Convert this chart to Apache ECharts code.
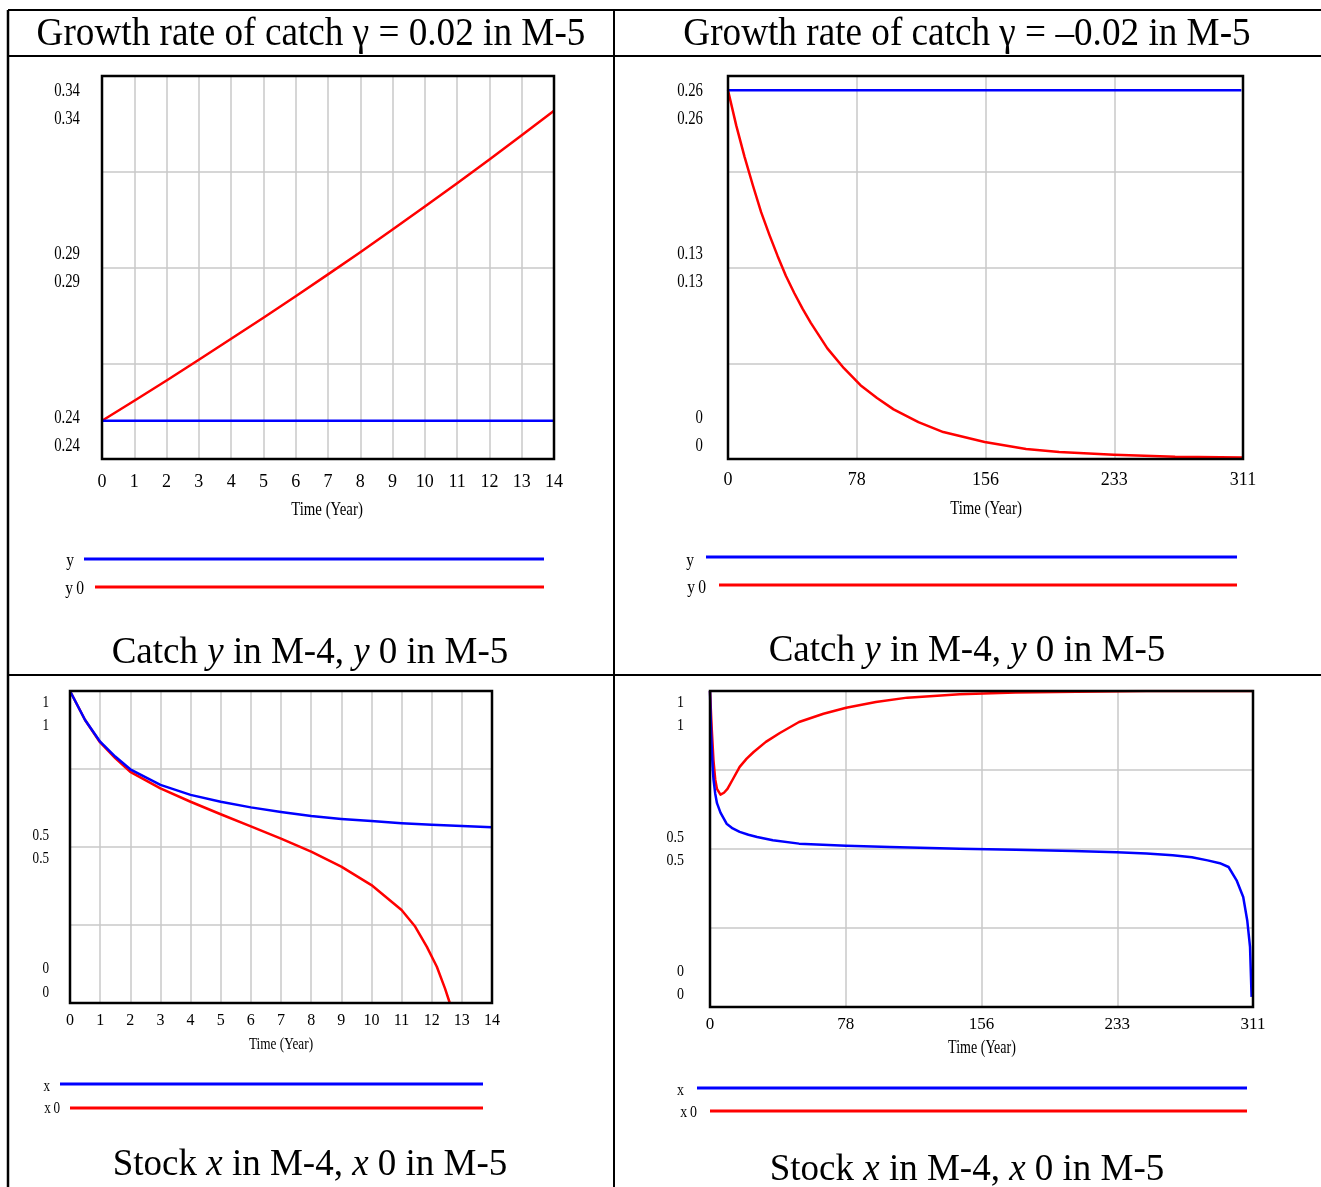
<!DOCTYPE html>
<html><head><meta charset="utf-8">
<script src="https://cdn.jsdelivr.net/npm/echarts/dist/echarts.min.js"></script>
<style>html,body{margin:0;padding:0;background:#fff}#c{width:1321px;height:1187px}</style>
</head><body><div id="c"></div><script>
// ---------- DATA ----------
// Panel 1: growth rate 0.02, catch
const p1Time = [0,1,2,3,4,5,6,7,8,9,10,11,12,13,14];
const p1Y    = [0.24,0.24,0.24,0.24,0.24,0.24,0.24,0.24,0.24,0.24,0.24,0.24,0.24,0.24,0.24];
const p1Y0   = [0.24,0.2452,0.2505,0.2559,0.2614,0.2669,0.2725,0.2782,0.284,0.2899,0.2959,0.302,0.3082,0.3145,0.3209];
const p1YLabels = ['0.34','0.34','0.29','0.29','0.24','0.24'];

// Panel 2: growth rate -0.02, catch
const p2TimeY = [0,310];
const p2Y     = [0.26,0.26];
const p2Time  = [0,5,10,15,20,25,30,35,40,45,50,55,60,70,80,90,100,115,130,155,180,200,233,270,311];
const p2Y0    = [0.26,0.235,0.213,0.193,0.174,0.158,0.143,0.129,0.117,0.106,0.096,0.087,0.078,0.064,0.052,0.043,0.035,0.026,0.019,0.012,0.007,0.005,0.003,0.0015,0.001];
const p2YLabels = ['0.26','0.26','0.13','0.13','0','0'];

// Panel 3: growth rate 0.02, stock
const p3TimeX  = [0,0.5,1,1.5,2,3,4,5,6,7,8,9,10,11,12,13,14];
const p3X      = [1.0,0.907,0.8375,0.79,0.749,0.699,0.667,0.645,0.627,0.612,0.599,0.59,0.583,0.576,0.571,0.567,0.563];
const p3TimeX0 = [0,0.5,1,1.5,2,3,4,5,6,7,8,9,10,11,11.45,11.84,12.17,12.44,12.6];
const p3X0     = [1.0,0.907,0.835,0.785,0.741,0.688,0.645,0.605,0.566,0.527,0.485,0.437,0.378,0.298,0.245,0.18,0.116,0.047,0.0];
const p3YLabels = ['1','1','0.5','0.5','0','0'];

// Panel 4: growth rate -0.02, stock
const p4TimeX  = [0,0.3,0.7,1,1.5,2,3,4,6,9.5,13,17,22,27,36,51,78,103,143,175,208,233,250,265,276,285,292,297,301.6,305.4,307.7,309.3,310.2];
const p4X      = [1.0,0.93,0.86,0.82,0.76,0.72,0.675,0.645,0.615,0.58,0.565,0.554,0.545,0.538,0.528,0.517,0.51,0.506,0.501,0.498,0.494,0.49,0.486,0.48,0.474,0.464,0.455,0.443,0.401,0.348,0.274,0.19,0.032];
const p4TimeX0 = [0,0.5,1,2,3,4,6,8,10,13,17,21,25,32,40,51,65,78,95,113,143,175,210,250,311];
const p4X0     = [1.0,0.94,0.88,0.78,0.72,0.69,0.672,0.678,0.69,0.72,0.76,0.786,0.807,0.839,0.867,0.902,0.928,0.947,0.965,0.979,0.99,0.995,0.998,1.0,1.0];
const p4YLabels = ['1','1','0.5','0.5','0','0'];

const headers = ['Growth rate of catch \u03b3 = 0.02 in M-5', 'Growth rate of catch \u03b3 = \u20130.02 in M-5'];
const axisTitle = 'Time (Year)';

// ---------- LAYOUT ----------
const FONT = 'Liberation Serif';
const BLUE = '#0000ff', RED = '#ff0000', GRIDC = '#c8c8c8';
const grids = [
  {left:102, top:76,  width:452, height:383},
  {left:728, top:76,  width:515, height:383},
  {left:70,  top:691, width:422, height:312},
  {left:710, top:691, width:543, height:316}
];
const yRanges = [
  {min:0.23, max:0.33, interval:0.025},
  {min:0, max:0.27, interval:0.0675},
  {min:0, max:1, interval:0.25},
  {min:0, max:1, interval:0.25}
];
const xRanges = [
  {min:0, max:14, interval:1},
  {min:0, max:311, interval:77.75},
  {min:0, max:14, interval:1},
  {min:0, max:311, interval:77.75}
];
const xLabelSize = [18,18,16,17];
const xLabelMargin = [14,12,10,9];

function pairs(t, v){ return t.map((x,i)=>[x, v[i]]); }

const xAxes = xRanges.map((r,i)=>({
  type:'value', gridIndex:i, min:r.min, max:r.max, interval:r.interval,
  axisLine:{show:false}, axisTick:{show:false},
  splitLine:{show:true, lineStyle:{color:GRIDC, width:1.5}},
  axisLabel:{fontFamily:FONT, fontSize:xLabelSize[i], color:'#000', margin:xLabelMargin[i],
    formatter:(v)=>String(Math.round(v)), showMinLabel:true, showMaxLabel:true}
}));
const yAxes = yRanges.map((r,i)=>({
  type:'value', gridIndex:i, min:r.min, max:r.max, interval:r.interval,
  axisLine:{show:false}, axisTick:{show:false}, axisLabel:{show:false},
  splitLine:{show:true, lineStyle:{color:GRIDC, width:1.5}}
}));

function line(gi, data, color){
  return {type:'line', xAxisIndex:gi, yAxisIndex:gi, data, showSymbol:false, symbol:'none',
    smooth:false, lineStyle:{color, width:2.5, join:'round'}, itemStyle:{color}, animation:false};
}
const series = [
  line(0, pairs(p1Time,p1Y0), RED), line(0, pairs(p1Time,p1Y), BLUE),
  line(1, pairs(p2Time,p2Y0), RED), line(1, pairs(p2TimeY,p2Y), BLUE),
  line(2, pairs(p3TimeX0,p3X0), RED), line(2, pairs(p3TimeX,p3X), BLUE),
  line(3, pairs(p4TimeX0,p4X0), RED), line(3, pairs(p4TimeX,p4X), BLUE)
];

// ---------- GRAPHICS ----------
const G = [];
function txt(x,y,text,size,align,sx){
  G.push({type:'text', x, y, scaleX:sx||1, z:50,
    style:{text, fontFamily:FONT, fontSize:size, fill:'#000', textAlign:align||'center', textVerticalAlign:'middle'}});
}
function hl(x1,y1,x2,y2,color,w){
  G.push({type:'line', z:60, shape:{x1,y1,x2,y2}, style:{stroke:color, lineWidth:w}});
}
// table rules
hl(8,10,1321,10,'#000',2); hl(8,56,1321,56,'#000',2); hl(8,675,1321,675,'#000',2);
hl(8,10,8,1187,'#000',2.5); hl(614,10,614,1187,'#000',2);
// plot boxes
grids.forEach(g=>G.push({type:'rect', z:70, shape:{x:g.left,y:g.top,width:g.width,height:g.height},
  style:{fill:'none', stroke:'#000', lineWidth:2.5}}));
// headers
txt(311,34,headers[0],40,'center',0.93);
txt(967,34,headers[1],40,'center',0.93);
// y tick labels
const yLabelPos = [
  {x:80, ys:[91,119,254,282,418,446], size:18},
  {x:703,ys:[91,119,254,282,418,446], size:18},
  {x:49, ys:[703,726,836,859,969,993], size:16},
  {x:684,ys:[703,726,838,861,972,995], size:17}
];
[p1YLabels,p2YLabels,p3YLabels,p4YLabels].forEach((labs,i)=>{
  labs.forEach((l,j)=>txt(yLabelPos[i].x, yLabelPos[i].ys[j], l, yLabelPos[i].size, 'right', 0.82));
});
// axis titles
txt(327,510,axisTitle,19,'center',0.78);
txt(986,509,axisTitle,19,'center',0.78);
txt(281,1045,axisTitle,17,'center',0.78);
txt(982,1048,axisTitle,18,'center',0.78);
// legends
const legends = [
  {a:'y', b:'y0', ax:74, ay:561, bx:84, by:589, l1:[84,544,559], l2:[95,544,587], size:19},
  {a:'y', b:'y0', ax:694, ay:561, bx:706, by:588, l1:[706,1237,557], l2:[719,1237,585], size:19},
  {a:'x', b:'x0', ax:50, ay:1087, bx:60, by:1109, l1:[60,483,1084], l2:[70,483,1108], size:16},
  {a:'x', b:'x0', ax:684, ay:1091, bx:697, by:1113, l1:[697,1247,1088], l2:[710,1247,1111], size:17}
];
legends.forEach(L=>{
  txt(L.ax,L.ay,L.a,L.size,'right',0.82);
  txt(L.bx,L.by,L.b.charAt(0)+'\u2009'+L.b.charAt(1),L.size,'right',0.82);
  hl(L.l1[0],L.l1[2],L.l1[1],L.l1[2],BLUE,3);
  hl(L.l2[0],L.l2[2],L.l2[1],L.l2[2],RED,3);
});
// captions (rich text with italics)
function caption(x,y,parts){
  G.push({type:'text', x, y, z:50, style:{
    text: parts.map(p=>'{'+(p[1]?'i':'n')+'|'+p[0]+'}').join(''),
    textAlign:'center', textVerticalAlign:'middle',
    rich:{ n:{fontFamily:FONT, fontSize:37, fill:'#000'}, i:{fontFamily:FONT, fontSize:37, fontStyle:'italic', fill:'#000'} }
  }});
}
const capY = [['Catch ',0],['y',1],[' in M-4, ',0],['y',1],[' 0 in M-5',0]];
const capX = [['Stock ',0],['x',1],[' in M-4, ',0],['x',1],[' 0 in M-5',0]];
caption(310,653,capY); caption(967,651,capY);
caption(310,1165,capX); caption(967,1170,capX);

const chart = echarts.init(document.getElementById('c'), null, {renderer:'canvas'});
chart.setOption({
  animation:false, backgroundColor:'#fff',
  grid: grids.map(g=>Object.assign({containLabel:false}, g)),
  xAxis: xAxes, yAxis: yAxes, series, graphic: G
});
</script></body></html>
